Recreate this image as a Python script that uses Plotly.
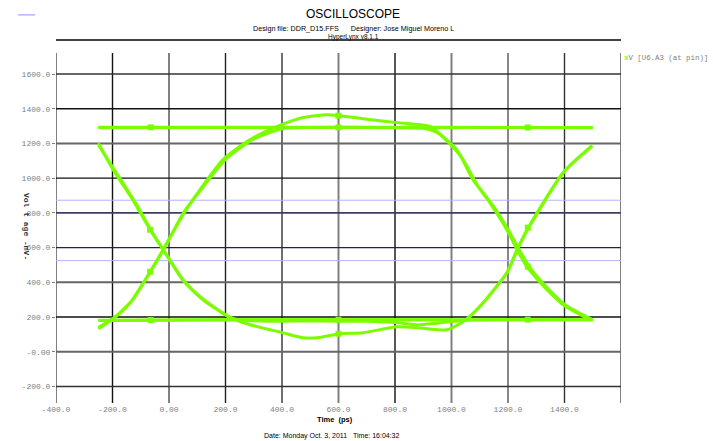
import plotly.graph_objects as go

# ---------------- data ----------------
x_ticks = [-400, -200, 0, 200, 400, 600, 800, 1000, 1200, 1400]
x_ticklabels = ["-400.0", "-200.0", "0.00", "200.0", "400.0", "600.0", "800.0", "1000.0", "1200.0", "1400.0"]
y_ticks = [1600, 1400, 1200, 1000, 800, 600, 400, 200, 0, -200]
y_ticklabels = ["1600.0", "1400.0", "1200.0", "1000.0", "800.0", "600.0", "400.0", "200.0", "-0.00", "-200.0"]

# "111" steady high
high_x = [-250, -65, 200, 600, 900, 1270, 1500]
high_y = [1293, 1293, 1293, 1293, 1291, 1292, 1291]
# "000" steady low
low_x = [-250, -65, 200, 600, 900, 1270, 1500]
low_y = [180, 182, 184, 185, 184, 185, 184]
# "101" falling, dip, rising
f_dip_r_x = [-250, -198, -130, -67, -21, 50, 110, 216, 287, 404, 474, 524, 605, 687, 807, 900, 984, 1041, 1100, 1196, 1232, 1270, 1395, 1497]
f_dip_r_y = [1202, 1049, 880, 703, 588, 415, 317, 196, 156, 109, 81, 81, 104, 110, 144, 135, 127, 173, 260, 455, 588, 710, 1032, 1187]
# "010" rising, overshoot, falling
r_os_f_x = [-250, -198, -138, -67, -21, 50, 110, 191, 287, 382, 474, 559, 605, 700, 807, 924, 970, 1019, 1076, 1136, 1196, 1232, 1267, 1338, 1395, 1490]
r_os_f_y = [133, 190, 282, 461, 588, 790, 934, 1107, 1222, 1297, 1349, 1366, 1360, 1340, 1320, 1297, 1239, 1164, 991, 858, 703, 588, 490, 357, 271, 184]
# "110" high then falling
h_f_x = [-250, 200, 600, 800, 900, 950, 990, 1040, 1090, 1150, 1205, 1240, 1280, 1350, 1410, 1500]
h_f_y = [1291, 1292, 1292, 1291, 1288, 1262, 1205, 1110, 965, 835, 692, 588, 480, 350, 262, 184]
# "100" falling then low
f_l_x = [-250, -190, -120, -60, -15, 50, 120, 230, 350, 500, 700, 800, 880, 950, 1050, 1250, 1500]
f_l_y = [1192, 1040, 862, 690, 575, 410, 300, 190, 176, 178, 176, 168, 155, 165, 182, 184, 184]
# "011" rising then high
r_h_x = [-250, -190, -130, -60, -15, 50, 120, 200, 300, 400, 500, 700, 1000, 1500]
r_h_y = [140, 202, 296, 476, 600, 798, 948, 1108, 1226, 1284, 1292, 1293, 1293, 1292]
# "001" low then rising
l_r_x = [-250, 600, 800, 1000, 1045, 1102, 1198, 1234, 1273, 1397, 1499]
l_r_y = [182, 185, 184, 184, 180, 264, 460, 592, 714, 1034, 1186]

# marker points on the traces
mark_x = [-65, 600, 1270, -65, 600, 1270, -67, -67, 600, 600, 1270, 1270]
mark_y = [1293, 1293, 1292, 183, 185, 185, 703, 461, 1360, 104, 715, 490]

# reference levels (light blue)
ref_levels = [873, 525]

# gridline styles
v_grid = [(-400, "#808080", 2), (-200, "#111111", 1.4), (0, "#808080", 2), (200, "#222222", 1.4),
          (400, "#333333", 1.4), (600, "#808080", 2), (800, "#111111", 1.4), (1000, "#808080", 2),
          (1200, "#6a6a6a", 1.6), (1400, "#333333", 1.4), (1600, "#808080", 2)]
h_grid = [(1600, "#333333", 1.4), (1400, "#111111", 1.4), (1200, "#666666", 2), (1000, "#111111", 1.4),
          (800, "#3c3c66", 1.6), (600, "#22224e", 1.4), (400, "#666666", 2), (200, "#111111", 1.4),
          (0, "#666666", 2), (-200, "#333333", 1.6)]

GREEN = "#7CFC00"

fig = go.Figure()

for xs, ys in [(high_x, high_y), (low_x, low_y), (f_dip_r_x, f_dip_r_y), (r_os_f_x, r_os_f_y),
               (h_f_x, h_f_y), (f_l_x, f_l_y), (r_h_x, r_h_y), (l_r_x, l_r_y)]:
    fig.add_trace(go.Scatter(x=xs, y=ys, mode="lines",
                             line=dict(color=GREEN, width=3, shape="spline", smoothing=0.6),
                             hoverinfo="skip", showlegend=False))

fig.add_trace(go.Scatter(x=mark_x, y=mark_y, mode="markers",
                         marker=dict(color=GREEN, size=6, symbol="square"),
                         hoverinfo="skip", showlegend=False))

shapes = []
for v, c, w in v_grid:
    shapes.append(dict(type="line", xref="x", yref="paper", x0=v, x1=v, y0=0, y1=1,
                       line=dict(color=c, width=w), layer="below"))
for v, c, w in h_grid:
    shapes.append(dict(type="line", xref="paper", yref="y", x0=0, x1=1, y0=v, y1=v,
                       line=dict(color=c, width=w), layer="below"))
for v in ref_levels:
    shapes.append(dict(type="line", xref="paper", yref="y", x0=0, x1=1, y0=v, y1=v,
                       line=dict(color="#b4b4ff", width=1), layer="below"))
# header rule
shapes.append(dict(type="line", xref="paper", yref="paper", x0=0, x1=1, y0=1.037, y1=1.037,
                   line=dict(color="#000000", width=1.5)))
# small dash top-left
shapes.append(dict(type="line", xref="paper", yref="paper", x0=-0.067, x1=-0.037, y0=1.109, y1=1.109,
                   line=dict(color="#b4b4ff", width=1.5)))

annotations = [
    dict(text="OSCILLOSCOPE", x=0.5257, y=1.111, xref="paper", yref="paper", showarrow=False,
         font=dict(family="Liberation Sans", size=12, color="#000000"), xanchor="center", yanchor="middle"),
    dict(text="Design file: DDR_D15.FFS&nbsp;&nbsp;&nbsp;&nbsp;&nbsp;&nbsp;Designer: Jose Miguel Moreno L",
         x=0.5257, y=1.071, xref="paper", yref="paper", showarrow=False,
         font=dict(family="Liberation Sans", size=7.2, color="#000000"),
         xanchor="center", yanchor="middle"),
    dict(text="HyperLynx v8.1.1", x=0.5257, y=1.046, xref="paper", yref="paper", showarrow=False,
         font=dict(family="Liberation Sans", size=6.5, color="#000000"),
         xanchor="center", yanchor="middle"),
    dict(text="<b>Time  (ps)</b>", x=0.4938, y=-0.047, xref="paper", yref="paper", showarrow=False,
         font=dict(family="Liberation Sans", size=7.5, color="#000000"),
         xanchor="center", yanchor="middle"),
    dict(text="Date: Monday Oct. 3, 2011&nbsp;&nbsp;&nbsp;Time: 16:04:32", x=0.4885, y=-0.094,
         xref="paper", yref="paper", showarrow=False,
         font=dict(family="Liberation Sans", size=7, color="#000000"),
         xanchor="center", yanchor="middle"),
    dict(text="<b>Vol t age -mV-</b>", x=-0.0513, y=0.5057, xref="paper", yref="paper", showarrow=False,
         textangle=90, font=dict(family="Liberation Mono", size=8, color="#333333"),
         xanchor="center", yanchor="middle"),
    dict(text="<span style='color:#7CFC00'><b>x</b></span>V [U6.A3 (at pin)]", x=1.001, y=0.986,
         xref="paper", yref="paper", showarrow=False,
         font=dict(family="Liberation Mono", size=7.4, color="#808080"),
         xanchor="left", yanchor="middle"),
]

fig.update_layout(
    width=713, height=441,
    margin=dict(l=56, r=92, t=53, b=38),
    paper_bgcolor="#ffffff", plot_bgcolor="#ffffff",
    shapes=shapes, annotations=annotations,
    xaxis=dict(range=[-400, 1600], tickvals=x_ticks, ticktext=x_ticklabels, showgrid=False,
               zeroline=False, showline=False, ticks="", ticklabelstandoff=0,
               tickfont=dict(family="Liberation Mono", size=8, color="#808080")),
    yaxis=dict(range=[-295, 1721], tickvals=y_ticks, ticktext=y_ticklabels, showgrid=False,
               zeroline=False, showline=False, ticks="outside", ticklen=3, tickcolor="#808080",
               tickfont=dict(family="Liberation Mono", size=8, color="#808080")),
    showlegend=False,
)

fig.write_html("out.html")
